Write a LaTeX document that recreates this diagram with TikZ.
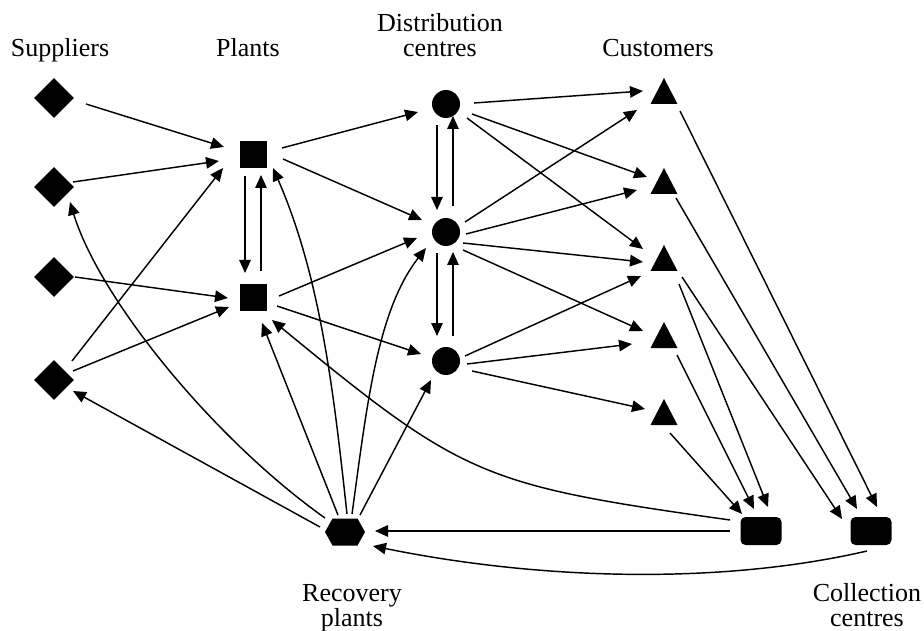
\documentclass[tikz,border=0pt]{standalone}
\usepackage{fontspec}
\setmainfont{Liberation Serif}
\usetikzlibrary{arrows.meta,shapes.geometric}
\begin{document}
\begin{tikzpicture}[x=1pt,y=-1pt,
  arr/.style={line width=1.45pt, -{Triangle[length=13pt,width=11.5pt]}},
  supplier/.style={diamond, fill=black, inner sep=0pt, minimum width=40pt, minimum height=40pt},
  plant/.style={rectangle, fill=black, inner sep=0pt, minimum size=27pt},
  dc/.style={circle, fill=black, inner sep=0pt, minimum size=28pt},
  customer/.style={rectangle, inner sep=0pt, minimum width=27pt, minimum height=26pt,
    path picture={\fill (path picture bounding box.south west) -- (path picture bounding box.south east) -- (path picture bounding box.north) -- cycle;}},
  collect/.style={rectangle, rounded corners=5pt, fill=black, inner sep=0pt, minimum width=41pt, minimum height=28pt},
  recov/.style={rectangle, inner sep=0pt, minimum width=40pt, minimum height=27pt,
    path picture={\fill (path picture bounding box.west) -- ([xshift=-12.5pt]path picture bounding box.north) -- ([xshift=12.5pt]path picture bounding box.north) -- (path picture bounding box.east) -- ([xshift=12.5pt]path picture bounding box.south) -- ([xshift=-12.5pt]path picture bounding box.south) -- cycle;}},
  lab/.style={anchor=base, inner sep=0pt, font=\fontsize{26}{26}\selectfont}
]
\useasboundingbox (0,0) rectangle (924,631);

% nodes
\node[supplier] (S1) at (54,98) {};
\node[supplier] (S2) at (54,187) {};
\node[supplier] (S3) at (54,277) {};
\node[supplier] (S4) at (54,380) {};
\node[plant] (P1) at (253,155) {};
\node[plant] (P2) at (253,297) {};
\node[dc] (D1) at (446,104) {};
\node[dc] (D2) at (446,232) {};
\node[dc] (D3) at (446,361) {};
\node[customer] (C1) at (664,91) {};
\node[customer] (C2) at (664,181) {};
\node[customer] (C3) at (664,258) {};
\node[customer] (C4) at (664,335) {};
\node[customer] (C5) at (664,412) {};
\node[collect] (K1) at (761,531) {};
\node[collect] (K2) at (871,531) {};
\node[recov] (R) at (345,532) {};

% labels
\node[lab] (LS) at (60,57) {Suppliers};
\node[lab] (LP) at (248,57) {Plants};
\node[lab] (LD1) at (440,32) {Distribution};
\node[lab] (LD2) at (440,57) {centres};
\node[lab] (LC) at (658,57) {Customers};
\node[lab] (LR1) at (352,601) {Recovery};
\node[lab] (LR2) at (352,626) {plants};
\node[lab] (LK1) at (867,601) {Collection};
\node[lab] (LK2) at (867,626) {centres};

% suppliers -> plants
\draw[arr] ([shift={(32,6)}]S1.center) -- ([shift={(-29,-8)}]P1.center);
\draw[arr] ([shift={(19,-5)}]S2.center) -- ([shift={(-34,6)}]P1.center);
\draw[arr] ([shift={(21,0)}]S3.center) -- ([shift={(-25,1)}]P2.center);
\draw[arr] ([shift={(18,-19)}]S4.center) -- ([shift={(-30,13)}]P1.center);
\draw[arr] ([shift={(19,-9)}]S4.center) -- ([shift={(-24,10)}]P2.center);
% plants <-> plants
\draw[arr] ([shift={(-8,21)}]P1.center) -- ([shift={(-8,-24)}]P2.center);
\draw[arr] ([shift={(8,-26)}]P2.center) -- ([shift={(8,20)}]P1.center);
% plants -> DCs
\draw[arr] ([shift={(29,-7)}]P1.center) -- ([shift={(-28,8)}]D1.center);
\draw[arr] ([shift={(30,4)}]P1.center) -- ([shift={(-24,-12)}]D2.center);
\draw[arr] ([shift={(26,-1)}]P2.center) -- ([shift={(-29,6)}]D2.center);
\draw[arr] ([shift={(24,9)}]P2.center) -- ([shift={(-25,-7)}]D3.center);
% DC <-> DC
\draw[arr] ([shift={(-9,21)}]D1.center) -- ([shift={(-9,-22)}]D2.center);
\draw[arr] ([shift={(7,-26)}]D2.center) -- ([shift={(7,12)}]D1.center);
\draw[arr] ([shift={(-9,21)}]D2.center) -- ([shift={(-9,-25)}]D3.center);
\draw[arr] ([shift={(7,-25)}]D3.center) -- ([shift={(7,20)}]D2.center);
% DCs -> customers
\draw[arr] ([shift={(28,-1)}]D1.center) -- ([shift={(-21,0)}]C1.center);
\draw[arr] ([shift={(26,10)}]D1.center) -- ([shift={(-17,-4)}]C2.center);
\draw[arr] ([shift={(21,14)}]D1.center) -- ([shift={(-21,-9)}]C3.center);
\draw[arr] ([shift={(19,-10)}]D2.center) -- ([shift={(-27,19)}]C1.center);
\draw[arr] ([shift={(20,2)}]D2.center) -- ([shift={(-27,9)}]C2.center);
\draw[arr] ([shift={(17,11)}]D2.center) -- ([shift={(-21,4)}]C3.center);
\draw[arr] ([shift={(17,18)}]D2.center) -- ([shift={(-21,-4)}]C4.center);
\draw[arr] ([shift={(19,-5)}]D3.center) -- ([shift={(-23,18)}]C3.center);
\draw[arr] ([shift={(21,3)}]D3.center) -- ([shift={(-32,9)}]C4.center);
\draw[arr] ([shift={(26,10)}]D3.center) -- ([shift={(-19,-3)}]C5.center);
% customers -> collection centres
\draw[arr] ([shift={(16,20)}]C1.center) -- ([shift={(6,-24)}]K2.center);
\draw[arr] ([shift={(12,17)}]C2.center) -- ([shift={(-14,-22)}]K2.center);
\draw[arr] ([shift={(18,19)}]C3.center) -- ([shift={(-29,-12)}]K2.center);
\draw[arr] ([shift={(15,26)}]C3.center) -- ([shift={(7,-24)}]K1.center);
\draw[arr] ([shift={(13,20)}]C4.center) -- ([shift={(-7,-22)}]K1.center);
\draw[arr] ([shift={(6,21)}]C5.center) -- ([shift={(-19,-17)}]K1.center);
% collection centres -> recovery / plants
\draw[arr] ([shift={(-31,0)}]K1.center) -- ([shift={(30,-1)}]R.center);
\draw[arr] ([shift={(-4,20)}]K2.center) .. controls +(-147,34) and +(167,34) .. ([shift={(28,14)}]R.center);
\draw[arr] ([shift={(-31,-11)}]K1.center) .. controls +(-248,-35) and +(192,158) .. ([shift={(19,23)}]P2.center);
% recovery plants -> others
\draw[arr] ([shift={(-25,-5)}]R.center) -- ([shift={(19,11)}]S4.center);
\draw[arr] ([shift={(-20,-14)}]R.center) .. controls +(-110,-78) and +(30,98) .. ([shift={(16,15)}]S2.center);
\draw[arr] ([shift={(-7,-17)}]R.center) -- ([shift={(9,26)}]P2.center);
\draw[arr] ([shift={(2,-18)}]R.center) .. controls +(-13,-119) and +(48,110) .. ([shift={(20,13)}]P1.center);
\draw[arr] ([shift={(7,-18)}]R.center) .. controls +(15,-109) and +(-49,63) .. ([shift={(-20,16)}]D2.center);
\draw[arr] ([shift={(15,-17)}]R.center) -- ([shift={(-15,19)}]D3.center);
\end{tikzpicture}
\end{document}
